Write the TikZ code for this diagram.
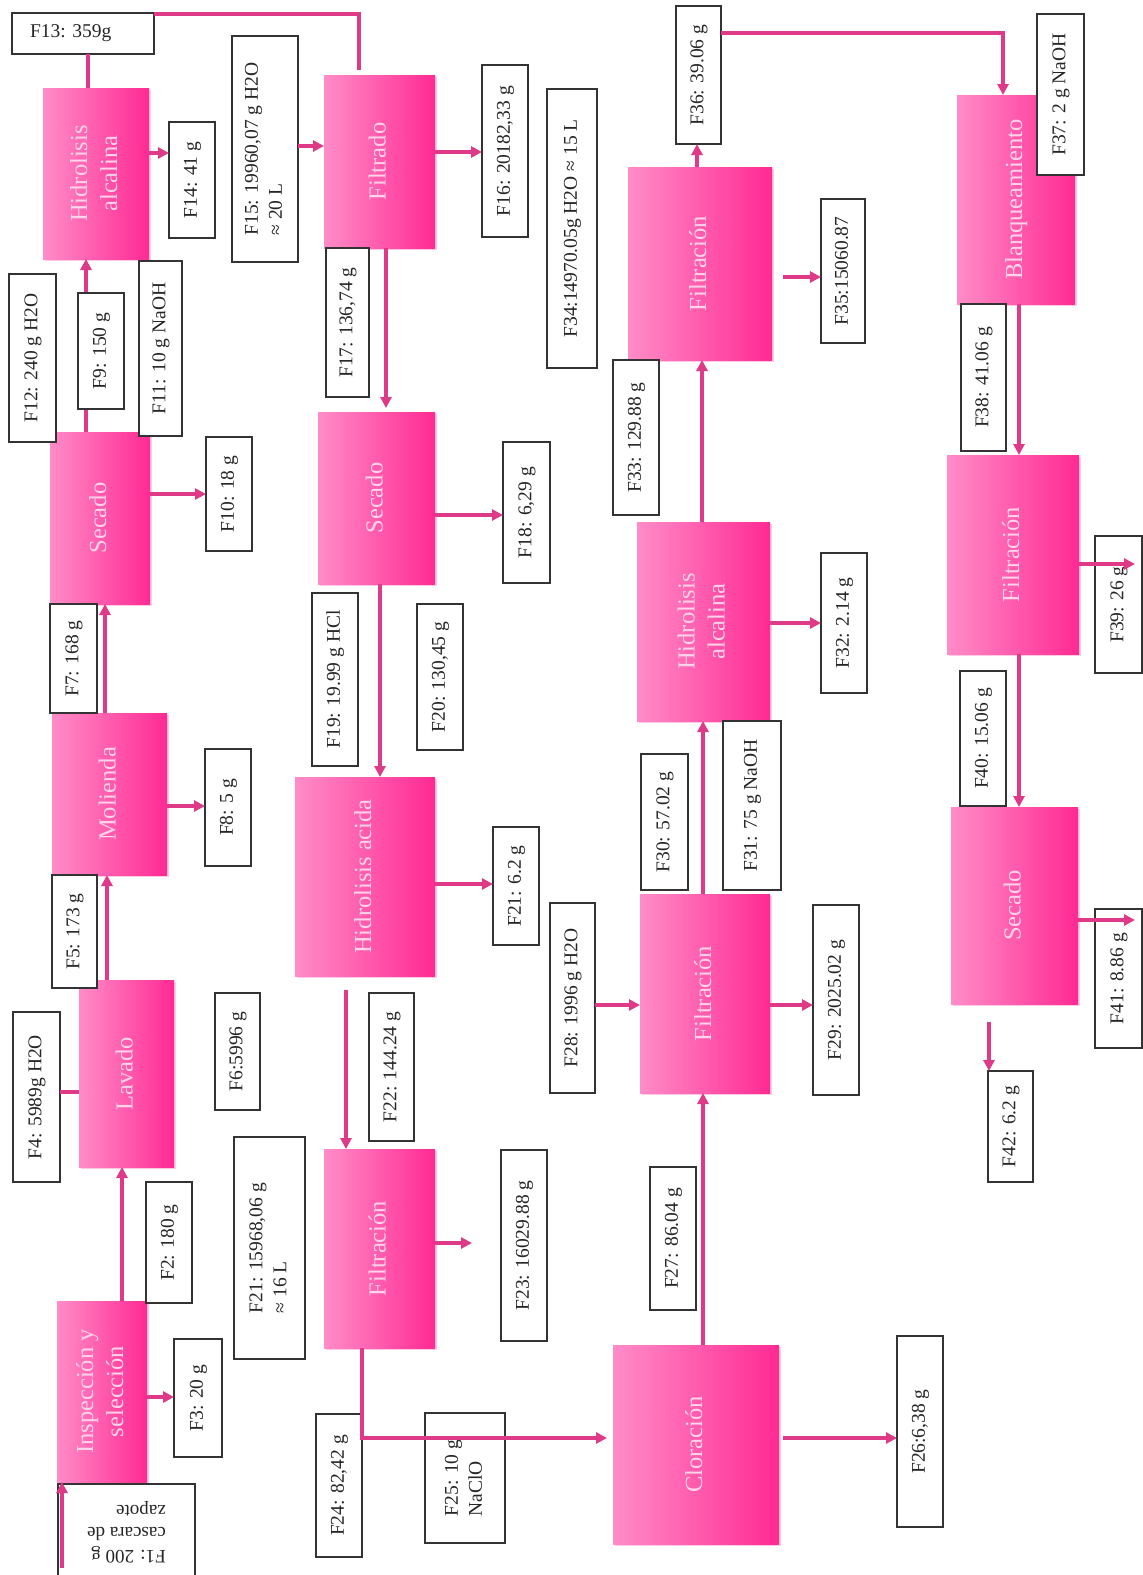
\documentclass[tikz,border=0pt]{standalone}
\usepackage{fontspec}
\setmainfont{Liberation Serif}
\usepackage{graphicx}
\usetikzlibrary{arrows.meta,shadows}
\definecolor{pL}{HTML}{FF8CC8}
\definecolor{pR}{HTML}{FF2A93}
\definecolor{flowC}{HTML}{DE3A88}
\definecolor{procT}{HTML}{FFD3E9}
\definecolor{lblB}{HTML}{333333}
\tikzset{
 proc/.style={anchor=north west, inner sep=0pt, outer sep=0pt, left color=pL, right color=pR, draw=none, text=procT,
   font=\fontsize{24.5}{30}\selectfont, drop shadow={shadow xshift=2pt, shadow yshift=-2pt, opacity=0.25, fill=pR}},
 lbl/.style={anchor=north west, inner sep=0pt, outer sep=0pt, draw=lblB, line width=1.8pt, fill=white, text=black!85,
   font=\fontsize{19.5}{24}\selectfont},
 flow/.style={draw=flowC, line width=3.5pt},
 arr/.style={flow, -{Triangle[length=11pt,width=11pt]}},
}
\newcommand\ProcBox[6]{%
  \pgfmathsetmacro\bxW{#4-#2}\pgfmathsetmacro\bxH{#5-#3}%
  \node[proc,minimum width=\bxW pt,minimum height=\bxH pt] (#1) at (#2,#3)
    {\rotatebox{90}{\begin{tabular}{@{}c@{}}#6\end{tabular}}};}
\newcommand\LblBox[7][c]{%
  \pgfmathsetmacro\bxW{#5-#3}\pgfmathsetmacro\bxH{#6-#4}%
  \node[lbl,minimum width=\bxW pt,minimum height=\bxH pt] (#2) at (#3,#4)
    {\rotatebox{90}{\begin{tabular}{@{}#1@{}}#7\end{tabular}}};}
\begin{document}
\begin{tikzpicture}[x=1pt,y=-1pt]
\useasboundingbox (0,0) rectangle (1143,1575);
\fill[white] (0,0) rectangle (1143,1575);

% process boxes
\ProcBox{HAa}{43}{88}{149}{259}{Hidrolisis\\alcalina}
\ProcBox{Filtrado}{324}{75}{435}{248}{Filtrado}
\ProcBox{Sec1}{50}{432}{150}{604}{Secado}
\ProcBox{Mol}{52}{713}{167}{875}{Molienda}
\ProcBox{Lav}{79}{980}{174}{1167}{Lavado}
\ProcBox{Insp}{57}{1301}{147}{1482}{Inspección y\\selección}
\ProcBox{Sec2}{318}{412}{435}{584}{Secado}
\ProcBox{HAc}{295}{777}{435}{976}{Hidrolisis acida}
\ProcBox{Fil2}{324}{1149}{435}{1348}{Filtración}
\ProcBox{Clo}{613}{1345}{779}{1544}{Cloración}
\ProcBox{Fil3}{640}{894}{770}{1093}{Filtración}
\ProcBox{HA2}{637}{522}{770}{721}{Hidrolisis\\alcalina}
\ProcBox{Fil1}{628}{167}{772}{360}{Filtración}
\ProcBox{Bla}{957}{95}{1075}{304}{Blanqueamiento}
\ProcBox{Fil4}{947}{455}{1079}{654}{Filtración}
\ProcBox{Sec3}{951}{807}{1078}{1004}{Secado}

% connector hidden behind F9
\draw[arr] (Sec1.north -| 86,0) -- (HAa.south -| 86,0);

% label boxes
\node[lbl,minimum width=142pt,minimum height=41pt] (F13) at (12,13) {\makebox[142pt][l]{\hspace{18pt}F13: 359g}};
\LblBox{F14}{169}{122}{215}{238}{F14: 41 g}
\LblBox[l]{F15}{232}{36}{298}{262}{F15: 19960,07 g H2O\\≈ 20 L}
\LblBox{F16}{482}{65}{528}{237}{F16: 20182,33 g}
\LblBox{F17}{326}{248}{369}{397}{F17: 136,74 g}
\LblBox{F12}{9}{274}{56}{442}{F12: 240 g H2O}
\LblBox{F9}{78}{293}{124}{409}{F9: 150 g}
\LblBox{F11}{139}{261}{182}{436}{F11: 10 g NaOH}
\LblBox{F10}{206}{437}{252}{551}{F10: 18 g}
\LblBox{F7}{50}{604}{97}{713}{F7: 168 g}
\LblBox{F8}{205}{749}{251}{866}{F8: 5 g}
\LblBox{F5}{52}{875}{97}{988}{F5: 173 g}
\LblBox{F4}{13}{1012}{60}{1182}{F4: 5989g H2O}
\LblBox{F6}{215}{993}{260}{1110}{F6:5996 g}
\LblBox{F2}{146}{1182}{192}{1303}{F2: 180 g}
\LblBox{F3}{174}{1339}{222}{1457}{F3: 20 g}
\node[lbl,minimum width=137pt,minimum height=96pt,font=\fontsize{19}{22.5}\selectfont] (F1) at (58,1484)
  {\rotatebox{180}{\begin{tabular}{@{}l@{}}F1: 200 g\\cascara de\\zapote\end{tabular}}};
\LblBox{F18}{503}{442}{550}{583}{F18: 6,29 g}
\LblBox{F19}{312}{593}{358}{766}{F19: 19.99 g HCl}
\LblBox{F20}{417}{604}{463}{750}{F20: 130,45 g}
\LblBox{F21a}{493}{827}{539}{945}{F21: 6.2 g}
\LblBox{F22}{369}{993}{414}{1141}{F22: 144.24 g}
\LblBox[l]{F21b}{234}{1137}{305}{1359}{F21: 15968,06 g\\≈ 16 L}
\LblBox{F23}{501}{1150}{547}{1341}{F23: 16029.88 g}
\LblBox{F24}{316}{1414}{362}{1557}{F24: 82,42 g}
\LblBox[l]{F25}{425}{1413}{505}{1543}{F25: 10 g\\NaClO}
\LblBox{F26}{897}{1336}{943}{1527}{F26:6,38 g}
\LblBox{F27}{650}{1167}{696}{1310}{F27: 86.04 g}
\LblBox{F28}{550}{903}{595}{1093}{F28: 1996 g H2O}
\LblBox{F29}{813}{905}{859}{1095}{F29: 2025.02 g}
\LblBox{F30}{641}{754}{688}{890}{F30: 57.02 g}
\LblBox{F31}{723}{721}{781}{890}{F31: 75 g NaOH}
\LblBox{F32}{821}{553}{867}{693}{F32: 2.14 g}
\LblBox{F33}{613}{360}{659}{515}{F33: 129.88 g}
\LblBox{F34}{547}{89}{597}{368}{F34:14970.05g H2O ≈ 15 L}
\LblBox{F35}{821}{199}{865}{343}{F35:15060.87}
\LblBox{F36}{676}{6}{721}{144}{F36: 39.06 g}
\LblBox{F37}{1037}{14}{1084}{175}{F37: 2 g NaOH}
\LblBox{F38}{961}{304}{1006}{451}{F38: 41.06 g}
\LblBox{F39}{1095}{536}{1142}{673}{F39: 26 g}
\LblBox{F40}{960}{671}{1006}{806}{F40: 15.06 g}
\LblBox{F41}{1095}{909}{1142}{1048}{F41: 8.86 g}
\LblBox{F42}{988}{1071}{1033}{1182}{F42: 6.2 g}

% connectors
\draw[flow] ([yshift=-1pt]F13.north east) -| ([xshift=35pt,yshift=5pt]Filtrado.north west);
\draw[flow] (HAa.north -| 88,0) -- (F13.south -| 88,0);
\draw[arr] (HAa.east |- 0,153) -- (F14.west |- 0,153);
\draw[arr] (F15.east |- 0,146) -- (Filtrado.west |- 0,146);
\draw[arr] (Filtrado.east |- 0,152) -- (F16.west |- 0,152);
\draw[arr,shorten >=4pt] (Filtrado.south -| 386,0) -- (Sec2.north -| 386,0);
\draw[arr] (Mol.north -| 105,0) -- (Sec1.south -| 105,0);
\draw[arr] (Lav.north -| 107,0) -- (Mol.south -| 107,0);
\draw[arr] (Insp.north -| 122,0) -- (Lav.south -| 122,0);
\draw[flow] (F4.east |- 0,1092) -- (Lav.west |- 0,1092);
\draw[arr] (Sec1.east |- 0,494) -- (F10.west |- 0,494);
\draw[arr] (Mol.east |- 0,806) -- (F8.west |- 0,806);
\draw[arr] (Insp.east |- 0,1397) -- (F3.west |- 0,1397);
\coordinate (in1) at (62,1568);
\draw[arr] (in1) -- (Insp.south -| in1);
\draw[arr] (Sec2.east |- 0,515) -- (F18.west |- 0,515);
\draw[arr] (Sec2.south -| 380,0) -- (HAc.north -| 380,0);
\draw[arr] (HAc.east |- 0,884) -- (F21a.west |- 0,884);
\draw[arr,shorten <=14pt] (HAc.south -| 346,0) -- (Fil2.north -| 346,0);
\draw[arr,shorten >=29pt] (Fil2.east |- 0,1243) -- (F23.west |- 0,1243);
\draw[arr,shorten >=6pt] (Fil2.south -| 362,0) |- (Clo.west |- 0,1438);
\draw[arr,shorten <=4pt] (Clo.east |- 0,1438) -- (F26.west |- 0,1438);
\draw[arr] (Clo.north -| 703,0) -- (Fil3.south -| 703,0);
\draw[arr] (F28.east |- 0,1005) -- (Fil3.west |- 0,1005);
\draw[arr] (Fil3.east |- 0,1005) -- (F29.west |- 0,1005);
\draw[arr] (Fil3.north -| 703,0) -- (HA2.south -| 703,0);
\draw[arr] (HA2.east |- 0,623) -- (F32.west |- 0,623);
\draw[arr] (HA2.north -| 702,0) -- (Fil1.south -| 702,0);
\draw[arr] (Fil1.north -| 697,0) -- (F36.south -| 697,0);
\draw[arr,shorten <=11pt] (Fil1.east |- 0,277) -- (F35.west |- 0,277);
\draw[arr] (F36.east |- 0,33) -| (Bla.north -| 1003,0);
\draw[arr] (Bla.south -| 1019,0) -- (Fil4.north -| 1019,0);
\draw[arr,shorten >=7pt] (Fil4.east |- 0,564) -- (F39.east |- 0,564);
\draw[arr] (Fil4.south -| 1019,0) -- (Sec3.north -| 1019,0);
\draw[arr,shorten >=7pt] (Sec3.east |- 0,920) -- (F41.east |- 0,920);
\draw[arr,shorten <=18pt] (Sec3.south -| 989,0) -- (F42.north -| 989,0);
\end{tikzpicture}
\end{document}
